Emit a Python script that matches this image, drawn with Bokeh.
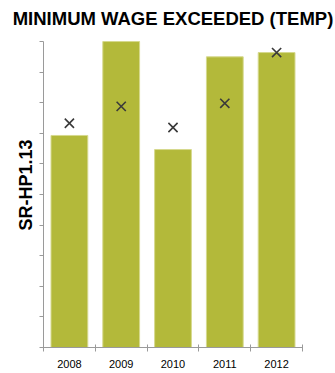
from bokeh.plotting import figure
from bokeh.models import FixedTicker, Range1d, Title
from bokeh.embed import file_html
from bokeh.resources import INLINE

years = [2008, 2009, 2010, 2011, 2012]
bar_values = [6.93, 10.0, 6.47, 9.5, 9.64]
marker_values = [7.33, 7.88, 7.19, 7.98, 9.64]
y_ticks = [0, 1, 2, 3, 4, 5, 6, 7, 8, 9, 10]

p = figure(width=335, height=373, output_backend="svg", toolbar_location=None,
           x_range=Range1d(years[0] - 0.5, years[-1] + 0.5),
           y_range=Range1d(0, 10.23),
           title="MINIMUM WAGE EXCEEDED (TEMP)",
           min_border_left=43, min_border_right=33, min_border_top=0, min_border_bottom=26)

p.title.text_font = "Liberation Sans"
p.title.text_font_size = "18.5px"
p.title.text_font_style = "bold"
p.title.align = "center"
p.title.text_color = "#000000"
p.title.standoff = 11

p.vbar(x=years, top=bar_values, width=0.71, fill_color="#b3b93a",
       line_color="#d6d98e", line_width=1)
p.scatter(x=years, y=marker_values, marker="x", size=13,
          line_color="#3a3a3a", line_width=1.6)

p.grid.visible = False
p.outline_line_color = None
p.background_fill_color = "white"

xa = p.xaxis[0]
xa.ticker = FixedTicker(ticks=years, minor_ticks=[y - 0.5 for y in years] + [years[-1] + 0.5])
xa.major_tick_line_color = None
xa.minor_tick_line_color = "#9a9a9a"
xa.minor_tick_out = 4
xa.minor_tick_in = 3
xa.axis_line_color = "#9a9a9a"
xa.major_label_text_font = "Liberation Sans"
xa.major_label_text_font_size = "11px"
xa.major_label_text_color = "#000000"
xa.major_label_standoff = 6

ya = p.yaxis[0]
ya.ticker = FixedTicker(ticks=y_ticks)
ya.bounds = (y_ticks[0], y_ticks[-1])
ya.major_label_overrides = {t: "" for t in y_ticks}
ya.major_label_text_font_size = "1px"
ya.major_label_standoff = 0
ya.major_tick_out = 4
ya.major_tick_in = 0
ya.major_tick_line_color = "#9a9a9a"
ya.minor_tick_line_color = None
ya.axis_line_color = "#9a9a9a"

ytitle = Title(text="SR-HP1.13", align="left", offset=117, standoff=8,
               text_font="Liberation Sans", text_font_size="18px",
               text_font_style="bold", text_color="#000000")
p.add_layout(ytitle, "left")

open("out.html", "w").write(file_html(p, INLINE))
